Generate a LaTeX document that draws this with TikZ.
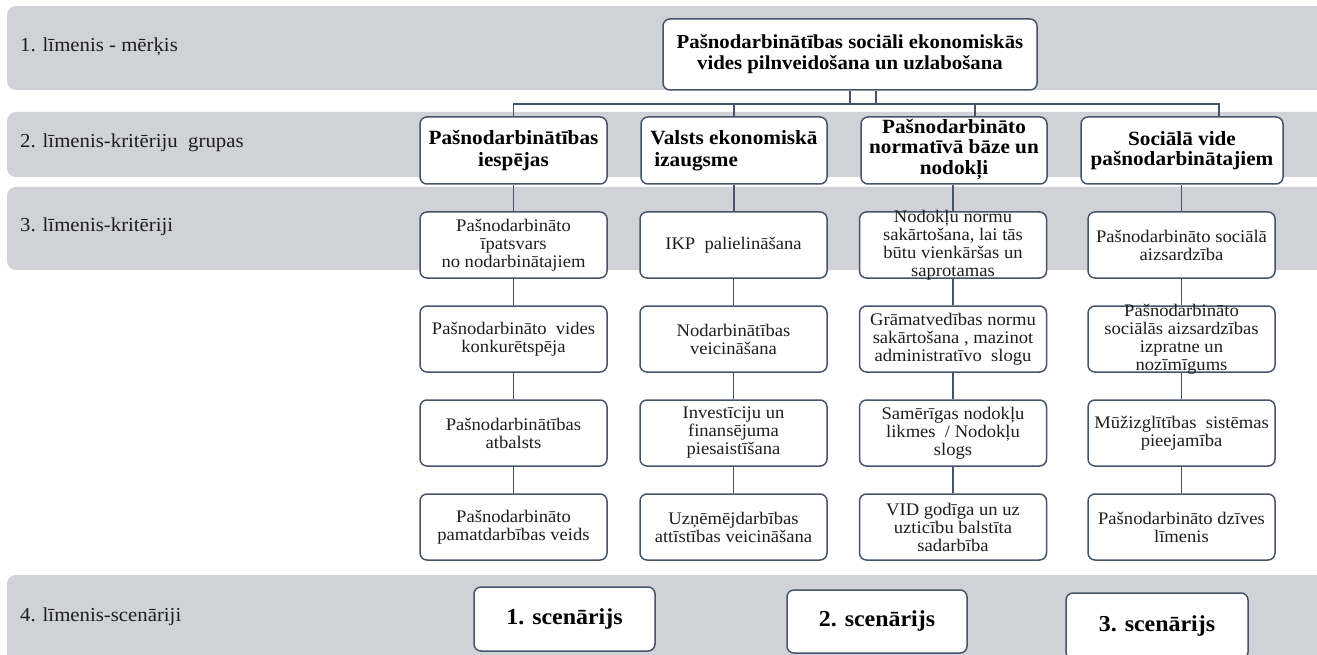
\documentclass[tikz,border=0pt]{standalone}
\usepackage{fontspec}
\setmainfont{Liberation Serif}[FakeStretch=1.05]
\definecolor{bandgray}{RGB}{208,210,215}
\definecolor{edge}{RGB}{68,84,106}
\definecolor{ink}{RGB}{30,30,30}

% box with fixed size and its text placed at its centre
\newcommand\critbox[4]{%
  \node[cbox] (#1) at (#2,#3) {};
  \node[bodytext] (#1t) at (#1.center) {#4};}

\begin{document}
\begin{tikzpicture}[x=1pt,y=-1pt,
  band/.style={fill=bandgray, rounded corners=9pt},
  boxbase/.style={draw=edge, line width=1.5pt, fill=white, rounded corners=7pt, inner sep=0pt},
  cbox/.style={boxbase, minimum width=187pt, minimum height=66pt},
  gbox/.style={boxbase, minimum height=67pt},
  sbox/.style={boxbase},
  bodytext/.style={align=center, inner sep=0pt, text=ink, font=\fontsize{17.7}{18}\selectfont},
  grouptext/.style={align=center, inner sep=0pt, font=\bfseries\fontsize{20.2}{21.5}\selectfont},
  scentext/.style={inner sep=0pt, font=\bfseries\fontsize{22.8}{25}\selectfont},
  levellabel/.style={anchor=west, inner sep=0pt, text=ink, font=\fontsize{19.8}{21}\selectfont},
  link/.style={draw=edge, line width=1.3pt}]

\clip (0,0) rectangle (1317,655);
\fill[white] (0,0) rectangle (1317,655);

% level bands
\fill[band] (7,6) rectangle (1335,90);
\fill[band] (7,112) rectangle (1335,177);
\fill[band] (7,187) rectangle (1335,270);
\fill[band] (7,575) rectangle (1335,680);

\node[levellabel] (l1) at (20,47) {1. līmenis - mērķis};
\node[levellabel] (l2) at (20,143) {2. līmenis-kritēriju~ grupas};
\node[levellabel] (l3) at (20,227) {3. līmenis-kritēriji};
\node[levellabel] (l4) at (20,617) {4. līmenis-scenāriji};

% goal
\node[boxbase, minimum width=374pt, minimum height=71pt] (T) at (850,54.5) {};
\node[grouptext, font=\bfseries\fontsize{19.8}{21}\selectfont] (Tt) at (T.center)
  {Pašnodarbinātības sociāli ekonomiskās\\vides pilnveidošana un uzlabošana};

% criteria groups
\node[gbox, minimum width=187pt] (A) at (513.5,150.5) {};
\node[gbox, minimum width=186pt] (B) at (734,150.5) {};
\node[gbox, minimum width=186pt] (C) at (954,150.5) {};
\node[gbox, minimum width=202pt] (D) at (1182,150.5) {};
\node[grouptext] (At) at (A.center) {Pašnodarbinātības\\iespējas};
\node[grouptext, align=left] (Bt) at (B.center) {Valsts ekonomiskā\\\hspace*{4pt}izaugsme};
\node[grouptext, font=\bfseries\fontsize{20.2}{20.5}\selectfont] (Ct) at ([yshift=1.5pt]C.center) {Pašnodarbināto\\normatīvā bāze un\\nodokļi};
\node[grouptext, font=\bfseries\fontsize{20.2}{20.5}\selectfont] (Dt) at (D.center) {Sociālā vide\\pašnodarbinātajiem};

% criteria, column 1
\critbox{a1}{513.5}{245}{Pašnodarbināto\\īpatsvars\\no nodarbinātajiem}
\critbox{a2}{513.5}{339}{Pašnodarbināto~ vides\\konkurētspēja}
\critbox{a3}{513.5}{433}{Pašnodarbinātības\\atbalsts}
\critbox{a4}{513.5}{527}{Pašnodarbināto\\pamatdarbības veids}
% column 2
\critbox{b1}{733.5}{245}{IKP~ palielināšana}
\critbox{b2}{733.5}{339}{Nodarbinātības\\veicināšana}
\critbox{b3}{733.5}{433}{Investīciju un\\finansējuma\\piesaistīšana}
\critbox{b4}{733.5}{527}{Uzņēmējdarbības\\attīstības veicināšana}
% column 3
\critbox{c1}{953}{245}{Nodokļu normu\\sakārtošana, lai tās\\būtu vienkāršas un\\saprotamas}
\critbox{c2}{953}{339}{Grāmatvedības normu\\sakārtošana , mazinot\\administratīvo~ slogu}
\critbox{c3}{953}{433}{Samērīgas nodokļu\\likmes~ / Nodokļu\\slogs}
\critbox{c4}{953}{527}{VID godīga un uz\\uzticību balstīta\\sadarbība}
% column 4
\critbox{d1}{1181.5}{245}{Pašnodarbināto sociālā\\aizsardzība}
\critbox{d2}{1181.5}{339}{Pašnodarbināto\\sociālās aizsardzības\\izpratne un\\nozīmīgums}
\critbox{d3}{1181.5}{433}{Mūžizglītības~ sistēmas\\pieejamība}
\critbox{d4}{1181.5}{527}{Pašnodarbināto dzīves\\līmenis}

% scenarios
\node[sbox, minimum width=181pt, minimum height=64pt] (S1) at (564.5,619) {};
\node[sbox, minimum width=180pt, minimum height=63pt] (S2) at (877,621.5) {};
\node[sbox, minimum width=182pt, minimum height=66pt] (S3) at (1157,626) {};
\node[scentext] (S1t) at (S1.center) {1. scenārijs};
\node[scentext] (S2t) at (S2.center) {2. scenārijs};
\node[scentext] (S3t) at (S3.center) {3. scenārijs};

% bus from the goal to the groups
\coordinate (bus) at (852,104);
\coordinate (T2) at ([xshift=26pt]T.south);
\coordinate (cC) at ([xshift=21pt]C.north);
\coordinate (cD) at ([xshift=37pt]D.north);
\draw[link] (A.north) |- (bus) -| (cD);
\draw[link] (B.north) -- (B.north |- bus);
\draw[link] (cC) -- (cC |- bus);
\draw[link, line width=2.6pt] (T.south) -- (T.south |- bus);
\draw[link] (T2) -- (T2 |- bus);

% group to criteria chains
\draw[link] (A.south) -- (a1.north) (a1.south) -- (a2.north) (a2.south) -- (a3.north) (a3.south) -- (a4.north);
\draw[link] (B.south) -- (B.south |- b1.north) (b1.south) -- (b2.north) (b2.south) -- (b3.north) (b3.south) -- (b4.north);
\draw[link] (C.south -| c1.north) -- (c1.north) (c1.south) -- (c2.north) (c2.south) -- (c3.north) (c3.south) -- (c4.north);
\draw[link] (D.south -| d1.north) -- (d1.north) (d1.south) -- (d2.north) (d2.south) -- (d3.north) (d3.south) -- (d4.north);

\end{tikzpicture}
\end{document}
